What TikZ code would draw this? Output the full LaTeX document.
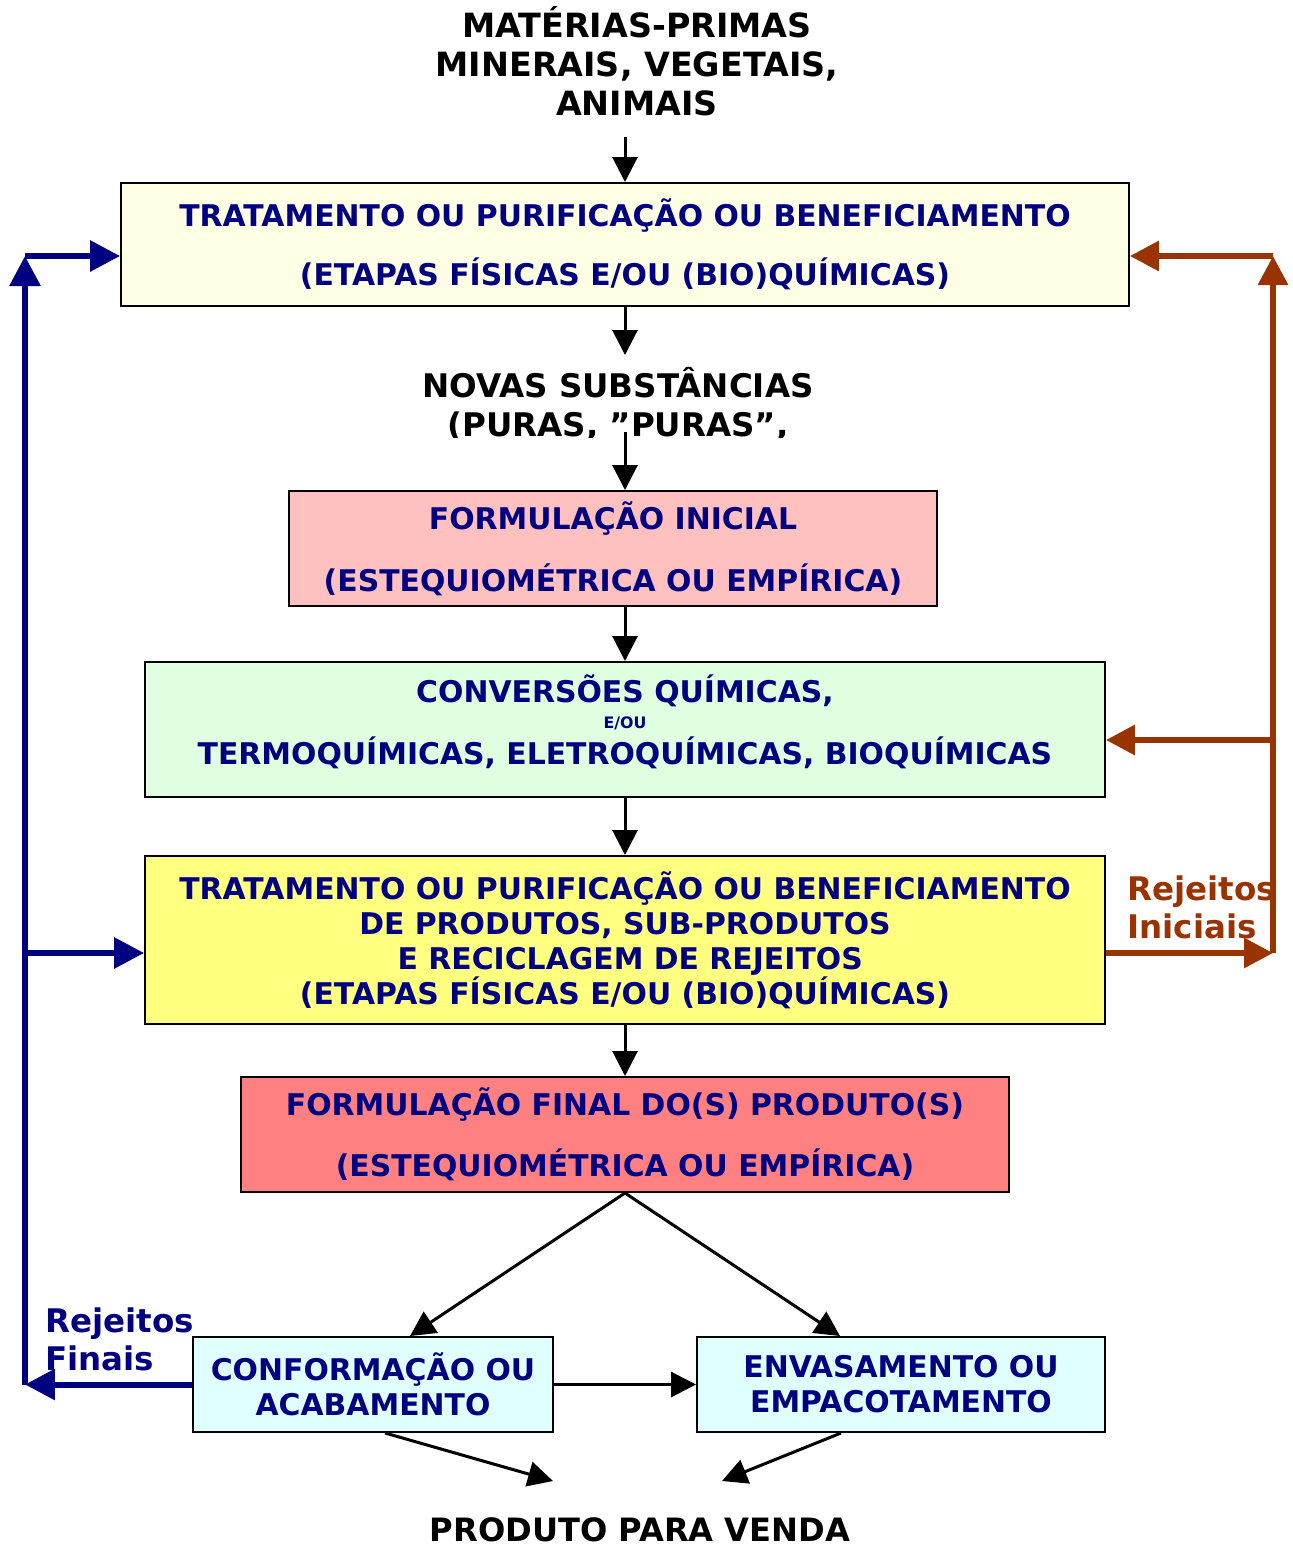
\documentclass[tikz,border=0pt]{standalone}
\usepackage{fontspec}
\setmainfont{DejaVu Sans}
\usetikzlibrary{arrows.meta}
\definecolor{navyt}{RGB}{0,0,128}
\definecolor{rust}{RGB}{153,51,0}
\definecolor{fa}{RGB}{255,255,230}
\definecolor{fb}{RGB}{255,192,192}
\definecolor{fc}{RGB}{224,255,224}
\definecolor{fd}{RGB}{255,255,128}
\definecolor{fe}{RGB}{255,128,128}
\definecolor{ff}{RGB}{224,255,255}
\begin{document}
\begin{tikzpicture}[x=0.02cm,y=-0.02cm,
 box/.style={draw=black,line width=0.04cm,inner sep=0pt,align=center,text=navyt,font=\bfseries\fontsize{17}{20}\selectfont},
 plain/.style={align=center,inner sep=0pt,font=\bfseries\fontsize{18.5}{22.2}\selectfont},
 arr/.style={line width=0.06cm,-{Triangle[length=0.5cm,width=0.5cm]}},
 barr/.style={draw=navyt,line width=0.12cm,-{Triangle[length=0.6cm,width=0.6cm]}},
 rarr/.style={draw=rust,line width=0.12cm,-{Triangle[length=0.58cm,width=0.58cm]}},
 lab/.style={align=left,inner sep=0pt,anchor=west,font=\bfseries\fontsize{18.5}{21.6}\selectfont}]
\useasboundingbox (0,0) rectangle (1292,1549);
\fill[white] (0,0) rectangle (1292,1549);

\node[plain,font=\bfseries\fontsize{19}{22.2}\selectfont] (src) at (637,61) {MATÉRIAS-PRIMAS\\MINERAIS, VEGETAIS,\\ANIMAIS};

\node[box,fill=fa,minimum width=20.16cm,minimum height=2.46cm] (box1) at (625,244.5)
 {TRATAMENTO OU PURIFICAÇÃO OU BENEFICIAMENTO\\[13.6pt](ETAPAS FÍSICAS E/OU (BIO)QUÍMICAS)};

\begin{scope}
\clip (0,360) rectangle (1292,437);
\node[plain] (nov) at (618,404) {NOVAS SUBSTÂNCIAS\\(PURAS, ”PURAS”,};
\end{scope}

\node[box,fill=fb,minimum width=12.96cm,minimum height=2.3cm] (box2) at (613,548.5)
 {FORMULAÇÃO INICIAL\\[15.3pt](ESTEQUIOMÉTRICA OU EMPÍRICA)};

\node[box,fill=fc,minimum width=19.2cm,minimum height=2.7cm] (box3) at (625,729.5)
 {CONVERSÕES QUÍMICAS,\\[-5pt]{\fontsize{9}{9}\selectfont E/OU}\\TERMOQUÍMICAS, ELETROQUÍMICAS, BIOQUÍMICAS\rule[-11.5pt]{0pt}{1pt}};

\node[box,fill=fd,minimum width=19.2cm,minimum height=3.36cm] (box4) at (625,940)
 {TRATAMENTO OU PURIFICAÇÃO OU BENEFICIAMENTO\\DE PRODUTOS, SUB-PRODUTOS\\~E RECICLAGEM DE REJEITOS\\(ETAPAS FÍSICAS E/OU (BIO)QUÍMICAS)};

\node[box,fill=fe,minimum width=15.36cm,minimum height=2.3cm] (box5) at (625,1134.5)
 {FORMULAÇÃO FINAL DO(S) PRODUTO(S)\\[14.7pt](ESTEQUIOMÉTRICA OU EMPÍRICA)};

\node[box,fill=ff,minimum width=7.2cm,minimum height=1.9cm] (box6) at (373,1384.5)
 {CONFORMAÇÃO OU\\ACABAMENTO};
\node[box,fill=ff,minimum width=8.16cm,minimum height=1.9cm] (box7) at (901,1384.5)
 {ENVASAMENTO OU\\EMPACOTAMENTO};

\node[plain,font=\bfseries\fontsize{18.3}{22}\selectfont] (prod) at (640,1530) {PRODUTO PARA VENDA};

\node[lab,text=navyt] (rf) at (45,1339) {Rejeitos\\Finais};
\node[lab,text=rust] (ri) at (1127,907) {Rejeitos\\Iniciais};

% black flow arrows
\coordinate (sstart) at (625,137);
\draw[arr] (sstart) -- (sstart |- box1.north);
\draw[arr] (box1.south) -- (box1.south |- 0,355);
\coordinate (nstart) at (625,432);
\draw[arr] (nstart) -- (nstart |- box2.north);
\draw[arr] (box3.north |- box2.south) -- (box3.north);
\draw[arr] (box3.south) -- (box4.north);
\draw[arr] (box4.south) -- (box5.north);
\draw[arr] (box5.south) -- ([xshift=0.74cm]box6.north);
\draw[arr] (box5.south) -- ([xshift=-1.22cm]box7.north);
\draw[arr] (box6.east) -- (box7.west);
\coordinate (p1) at (553,1481);
\coordinate (p2) at (722,1481);
\draw[arr] ([xshift=0.24cm]box6.south) -- (p1);
\draw[arr] ([xshift=-1.2cm]box7.south) -- (p2);

% blue feedback (final rejects)
\coordinate (bl) at (25,1384.5);
\coordinate (tl) at (25,256);
\draw[barr] (box6.west) -- (bl);
\draw[barr] (bl) -- (tl);
\draw[barr] (tl) -- (tl -| box1.west);
\coordinate (b4) at ([yshift=-0.26cm]box4.west);
\draw[barr] (bl |- b4) -- (b4);

% brown feedback (initial rejects)
\coordinate (br) at (1273,953);
\coordinate (tr) at (1273,256);
\draw[rarr] (br -| box4.east) -- (br);
\draw[rarr] (br) -- (tr);
\draw[rarr] (tr) -- (tr -| box1.east);
\coordinate (c3) at ([yshift=-0.21cm]box3.east);
\draw[rarr] (br |- c3) -- (c3);
\end{tikzpicture}
\end{document}
